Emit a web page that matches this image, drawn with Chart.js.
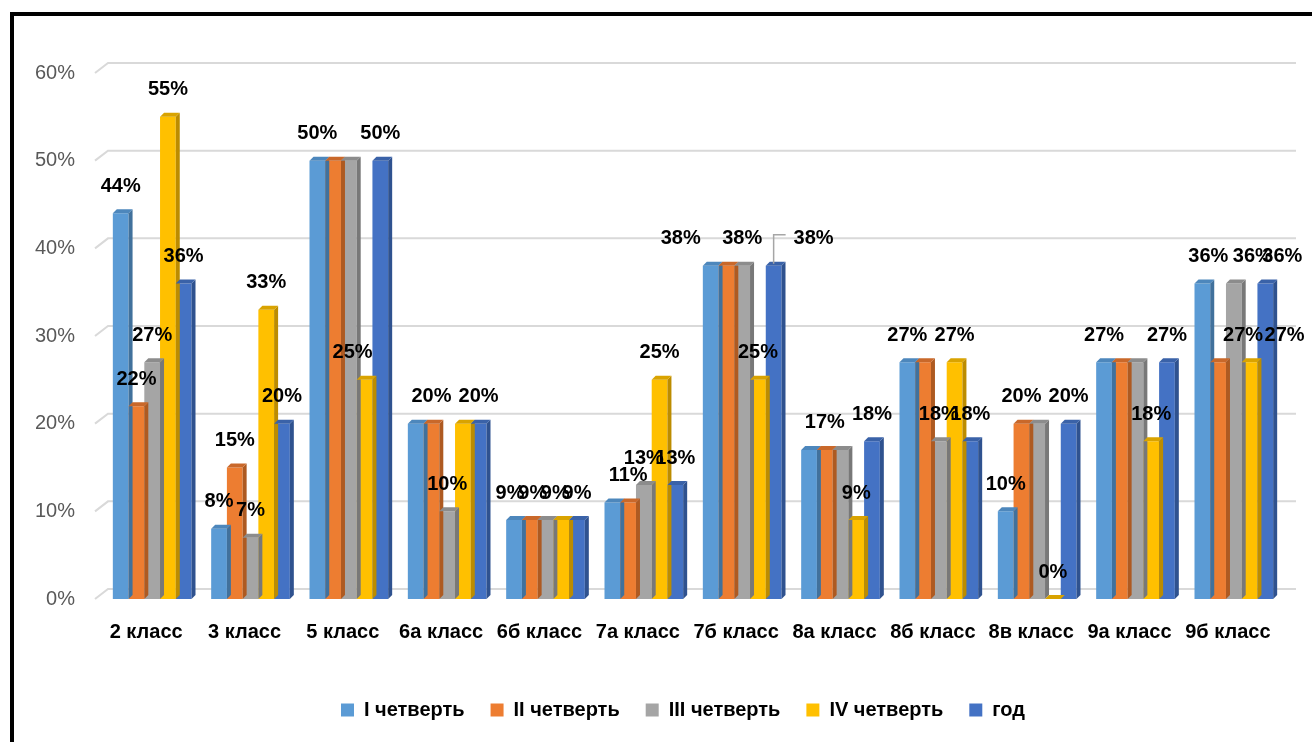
<!DOCTYPE html>
<html>
<head>
<meta charset="utf-8">
<script src="https://cdn.jsdelivr.net/npm/chart.js@4.4.1/dist/chart.umd.min.js"></script>
<style>
  html, body { margin: 0; padding: 0; background: #fff; }
  #wrap { position: relative; width: 1312px; height: 742px; overflow: hidden; }
  #frame { position: absolute; left: 10px; top: 12px; width: 1320px; height: 760px; border: 4px solid #000; box-sizing: border-box; pointer-events: none; }
  canvas { position: absolute; left: 0; top: 0; }
</style>
</head>
<body>
<div id="wrap">
  <canvas id="chart" width="1312" height="742"></canvas>
  <div id="frame"></div>
</div>
<script>
// --- data ---
const categories = ['2 класс', '3 класс', '5 класс', '6а класс', '6б класс', '7а класс', '7б класс', '8а класс', '8б класс', '8в класс', '9а класс', '9б класс'];
const seriesNames = ['I четверть', 'II четверть', 'III четверть', 'IV четверть', 'год'];
const q1   = [44, 8, 50, 20, 9, 11, 38, 17, 27, 10, 27, 36];
const q2   = [22, 15, 50, 20, 9, 11, 38, 17, 27, 20, 27, 27];
const q3   = [27, 7, 50, 10, 9, 13, 38, 17, 18, 20, 27, 36];
const q4   = [55, 33, 25, 20, 9, 25, 25, 9, 27, 0, 18, 27];
const year = [36, 20, 50, 20, 9, 13, 38, 18, 18, 20, 27, 36];
const yTicks = [0, 10, 20, 30, 40, 50, 60];

// which value labels Excel kept visible (the others were hidden by overlap)
const showQ1   = [1, 1, 1, 0, 1, 0, 1, 0, 1, 1, 1, 1];
const showQ2   = [1, 1, 0, 1, 1, 1, 0, 1, 0, 1, 0, 1];
const showQ3   = [1, 1, 0, 1, 0, 1, 1, 0, 1, 0, 0, 1];
const showQ4   = [1, 1, 1, 0, 1, 1, 1, 1, 1, 1, 1, 1];
const showYear = [1, 1, 1, 1, 1, 1, 1, 1, 1, 1, 1, 1];

// labels that Excel pushed sideways ("series-category": shift in px)
const labelShift = {
    '0-6': -30, '4-6': 40,
    '3-2': -12,
    '0-4': -4, '1-4': 3, '3-4': -6,
    '0-11': 6, '1-11': 25, '2-11': 19, '3-11': 35, '4-11': 17
};
const leaderLabels = ['4-6'];

const colors = ['#5B9BD5', '#ED7D31', '#A5A5A5', '#FFC000', '#4472C4'];
const sideColors = ['#41719C', '#AE5A21', '#787878', '#BC8C00', '#2F528F'];
const topColors = ['#4D87BC', '#C9682A', '#8C8C8C', '#D9A300', '#3A62A8'];

const allValues = [q1, q2, q3, q4, year];
const allShow = [showQ1, showQ2, showQ3, showQ4, showYear];

const FONT = '"Liberation Sans", Arial, sans-serif';
const DEPTH = 4;     // bar side depth
const WALL = 10;     // back wall offset for gridlines

// gridlines with a small slanted piece (3D floor/wall look) + the % labels
const gridPlugin = {
    id: 'grid3d',
    beforeDatasetsDraw(chart) {
        const { ctx, chartArea, scales } = chart;
        ctx.save();
        ctx.strokeStyle = '#D9D9D9';
        ctx.lineWidth = 2;
        ctx.font = '20px ' + FONT;
        ctx.fillStyle = '#595959';
        ctx.textAlign = 'right';
        ctx.textBaseline = 'middle';
        yTicks.forEach(v => {
            const y = scales.y.getPixelForValue(v);
            ctx.beginPath();
            ctx.moveTo(chartArea.left - 8, y);
            ctx.lineTo(chartArea.left + 5, y - WALL);
            ctx.lineTo(chartArea.right + 13, y - WALL);
            ctx.stroke();
            ctx.fillText(v + '%', chartArea.left - 28, y);
        });
        ctx.restore();
    }
};

// side + top faces for each bar, then the value labels
const bar3dPlugin = {
    id: 'bar3d',
    afterDatasetsDraw(chart) {
        const { ctx } = chart;
        ctx.save();
        chart.data.datasets.forEach((ds, di) => {
            const meta = chart.getDatasetMeta(di);
            meta.data.forEach(bar => {
                const half = bar.width / 2;
                const l = bar.x - half, r = bar.x + half;
                const t = bar.y, b = bar.base;
                ctx.fillStyle = sideColors[di];
                ctx.beginPath();
                ctx.moveTo(r, t);
                ctx.lineTo(r + DEPTH, t - DEPTH);
                ctx.lineTo(r + DEPTH, b - DEPTH);
                ctx.lineTo(r, b);
                ctx.closePath();
                ctx.fill();
                ctx.fillStyle = topColors[di];
                ctx.beginPath();
                ctx.moveTo(l, t);
                ctx.lineTo(l + DEPTH, t - DEPTH);
                ctx.lineTo(r + DEPTH, t - DEPTH);
                ctx.lineTo(r, t);
                ctx.closePath();
                ctx.fill();
            });
        });
        ctx.font = 'bold 20px ' + FONT;
        ctx.textAlign = 'center';
        ctx.textBaseline = 'middle';
        chart.data.datasets.forEach((ds, di) => {
            const meta = chart.getDatasetMeta(di);
            meta.data.forEach((bar, i) => {
                if (!allShow[di][i]) return;
                const key = di + '-' + i;
                const lx = bar.x + (labelShift[key] || 0);
                const ly = bar.y - 27;
                if (leaderLabels.includes(key)) {
                    ctx.strokeStyle = '#A6A6A6';
                    ctx.lineWidth = 1.5;
                    ctx.beginPath();
                    ctx.moveTo(bar.x, bar.y - 2);
                    ctx.lineTo(bar.x, ly - 4);
                    ctx.lineTo(lx - 28, ly - 4);
                    ctx.stroke();
                }
                ctx.fillStyle = '#000';
                ctx.fillText(ds.data[i] + '%', lx, ly);
            });
        });
        ctx.restore();
    }
};

const datasets = seriesNames.map((name, i) => ({
    label: name,
    data: allValues[i],
    backgroundColor: colors[i],
    borderWidth: 0,
    categoryPercentage: 0.8,
    barPercentage: 1.0
}));

new Chart(document.getElementById('chart'), {
    type: 'bar',
    data: { labels: categories, datasets: datasets },
    plugins: [gridPlugin, bar3dPlugin],
    options: {
        responsive: false,
        animation: false,
        layout: { padding: { top: 73, right: 29, left: 83, bottom: 12 } },
        scales: {
            x: {
                grid: { display: false },
                border: { display: false },
                ticks: { color: '#000', font: { family: FONT, size: 20, weight: 'bold' }, padding: 13, labelOffset: -6 },
                afterFit(scale) { scale.height = 75; }
            },
            y: {
                min: 0,
                max: 60,
                grid: { display: false },
                border: { display: false },
                ticks: { display: false, stepSize: 10 },
                afterFit(scale) { scale.width = 20; }
            }
        },
        plugins: {
            legend: {
                position: 'bottom',
                labels: {
                    boxWidth: 13,
                    boxHeight: 13,
                    padding: 26,
                    color: '#000',
                    font: { family: FONT, size: 20, weight: 'bold' }
                }
            },
            tooltip: { enabled: false }
        }
    }
});
</script>
</body>
</html>
